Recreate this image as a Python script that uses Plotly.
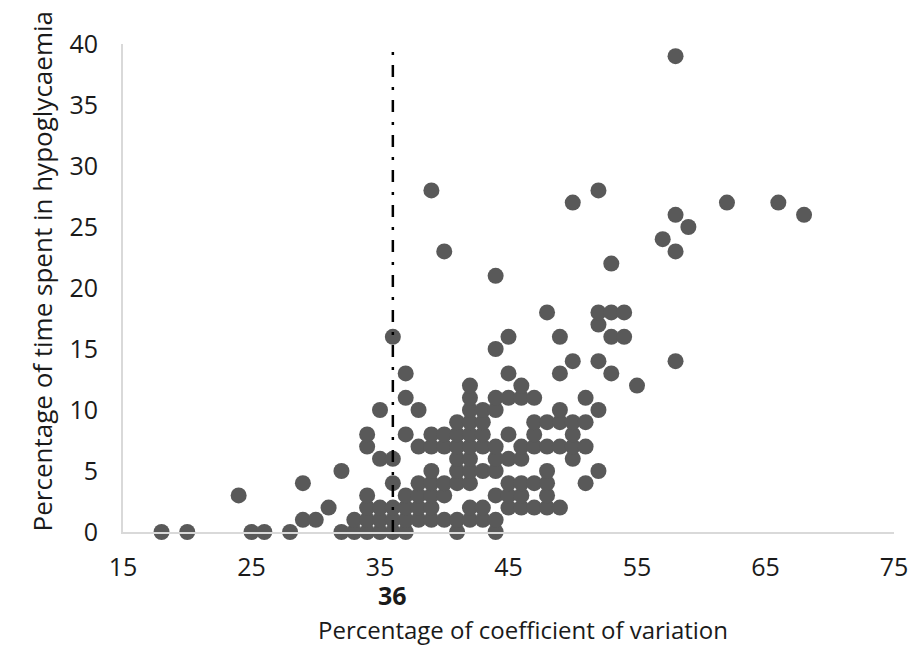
import plotly.graph_objects as go

# Coefficient of variation (%) for each patient, paired with time in hypoglycaemia (%)
cv_percent = [
    18, 20, 24, 25, 26, 28, 29, 29, 30, 31, 32, 32, 33, 33,
    34, 34, 34, 34, 34, 34,
    35, 35, 35, 35, 35,
    36, 36, 36, 36, 36, 36,
    37, 37, 37, 37, 37, 37, 37,
    38, 38, 38, 38, 38, 38,
    39, 39, 39, 39, 39, 39, 39, 39,
    40, 40, 40, 40, 40, 40,
    41, 41, 41, 41, 41, 41, 41, 41,
    42, 42, 42, 42, 42, 42, 42, 42, 42, 42, 42,
    43, 43, 43, 43, 43, 43, 43,
    44, 44, 44, 44, 44, 44, 44, 44, 44, 44,
    45, 45, 45, 45, 45, 45, 45, 45,
    46, 46, 46, 46, 46, 46, 46,
    47, 47, 47, 47, 47, 47,
    48, 48, 48, 48, 48, 48, 48,
    49, 49, 49, 49, 49, 49,
    50, 50, 50, 50, 50, 50,
    51, 51, 51, 51,
    52, 52, 52, 52, 52, 52,
    53, 53, 53, 53,
    54, 54, 55, 57,
    58, 58, 58, 58,
    59, 62, 66, 68,
]
hypo_percent = [
    0, 0, 3, 0, 0, 0, 1, 4, 1, 2, 0, 5, 0, 1,
    0, 1, 2, 3, 7, 8,
    0, 1, 2, 6, 10,
    0, 1, 2, 4, 6, 16,
    0, 1, 2, 3, 8, 11, 13,
    1, 2, 3, 4, 7, 10,
    1, 2, 3, 4, 5, 7, 8, 28,
    1, 3, 4, 7, 8, 23,
    0, 1, 4, 5, 6, 7, 8, 9,
    1, 2, 4, 5, 6, 7, 8, 9, 10, 11, 12,
    1, 2, 5, 7, 8, 9, 10,
    0, 1, 3, 5, 6, 7, 10, 11, 15, 21,
    2, 3, 4, 6, 8, 11, 13, 16,
    2, 3, 4, 6, 7, 11, 12,
    2, 4, 7, 8, 9, 11,
    2, 3, 4, 5, 7, 9, 18,
    2, 7, 9, 10, 13, 16,
    6, 7, 8, 9, 14, 27,
    4, 7, 9, 11,
    5, 10, 14, 17, 18, 28,
    13, 16, 18, 22,
    16, 18, 12, 24,
    14, 23, 26, 39,
    25, 27, 27, 26,
]

# CV threshold marked by the vertical reference line
cv_threshold = 36
y_limits = [0, 40]
x_ticks = [15, 25, 35, 45, 55, 65, 75]
y_ticks = [0, 5, 10, 15, 20, 25, 30, 35, 40]

FONT = "Open Sans"
TEXT = "#1a1a1a"

fig = go.Figure()

fig.add_trace(go.Scatter(
    x=cv_percent,
    y=hypo_percent,
    mode="markers",
    marker=dict(size=16, color="#595959", line=dict(width=0)),
    cliponaxis=False,
    showlegend=False,
))

fig.add_trace(go.Scatter(
    x=[cv_threshold, cv_threshold],
    y=y_limits,
    mode="lines",
    line=dict(color="#000000", width=2.5, dash="12px,10px,3px,10px"),
    cliponaxis=False,
    showlegend=False,
))

fig.update_xaxes(
    range=[15, 75],
    tickvals=x_ticks,
    showgrid=False,
    zeroline=False,
    showline=True,
    linecolor="#d9d9d9",
    linewidth=2,
    ticks="",
    ticklabelstandoff=12,
    tickfont=dict(family=FONT, size=25, color=TEXT),
)
fig.update_yaxes(
    range=y_limits,
    tickvals=y_ticks,
    showgrid=False,
    zeroline=False,
    showline=True,
    linecolor="#d9d9d9",
    linewidth=2,
    ticks="",
    ticklabelstandoff=18,
    tickfont=dict(family=FONT, size=25, color=TEXT),
)

fig.add_annotation(
    text="<b>36</b>", x=cv_threshold, xref="x", y=0, yref="paper",
    yshift=-63, yanchor="middle", showarrow=False,
    font=dict(family=FONT, size=25, color=TEXT),
)
fig.add_annotation(
    text="Percentage of coefficient of variation", x=0.519, xref="paper",
    y=0, yref="paper", yshift=-97, yanchor="middle", showarrow=False,
    font=dict(family=FONT, size=24, color=TEXT),
)
fig.add_annotation(
    text="Percentage of time spent in hypoglycaemia", x=0, xref="paper",
    xshift=-101, y=0.534, yref="paper", textangle=-90, showarrow=False,
    font=dict(family=FONT, size=26, color=TEXT),
)

fig.update_layout(
    width=920,
    height=646,
    margin=dict(l=123, r=15, t=44, b=114),
    paper_bgcolor="#ffffff",
    plot_bgcolor="#ffffff",
)

fig.write_html("out.html")
